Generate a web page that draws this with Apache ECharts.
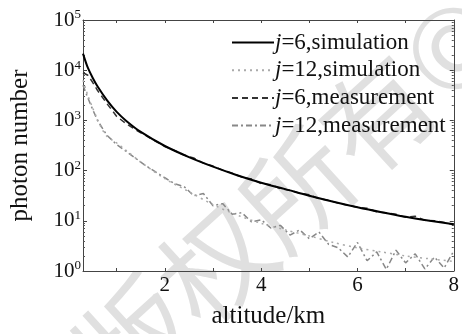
<!DOCTYPE html>
<html>
<head>
<meta charset="utf-8">
<script src="https://cdn.jsdelivr.net/npm/echarts@6/dist/echarts.min.js"></script>
<style>html,body{margin:0;padding:0;background:#fff}#c{width:462px;height:334px}</style>
</head>
<body>
<div id="c"></div>
<script>
// ---- data ----
const simJ6X = [0.3,0.4,0.5,0.6,0.8,1.0,1.2,1.5,2.0,2.5,3.0,3.5,4.0,4.5,5.0,5.5,6.0,6.5,7.0,7.5,8.0];
const simJ6Y = [21400,11200,7080,4790,2510,1480,977,589,309,186,120,81,57.5,42.7,31.6,24,18.6,14.8,12,10,8.5];
const simJ12X = [0.3,0.4,0.5,0.6,0.7,0.8,1.0,1.2,1.5,2.0,2.5,3.0,3.5,4.0,4.5,5.0,5.5,6.0,6.5,7.0,7.5,8.0];
const simJ12Y = [6310,3160,1780,1050,661,479,355,251,148,69,38,21,13,8.9,6.6,5.0,3.7,2.9,2.4,2.0,1.75,1.55];
const measX = [0.3,0.4,0.5,0.6,0.8,1.0,1.2,1.4,1.6,1.8,2.0,2.2,2.4,2.6,2.8,3.0,3.2,3.4,3.6,3.8,4.0,4.2,4.4,4.6,4.8,5.0,5.2,5.4,5.6,5.8,6.0,6.2,6.4,6.6,6.8,7.0,7.2,7.4,7.6,7.8,8.0];
const measJ6Y = [8910,7940,5750,3980,2140,1200,851,646,501,389,302,251,204,178,141,123,102,89,74,68,55,52.5,43.6,40.7,35.5,33.1,27.5,25.7,22.4,20.4,18.6,17.8,15.1,14.5,13.5,11.7,12.3,10.2,10,9.3,8.3];
const measJ12Y = [5010,2820,1660,1000,501,331,240,174,126,95,72,55,48,31.6,35,20,22,13.5,14.5,9.5,10.5,7.2,8.1,5.2,6.6,4.4,6.0,3.4,2.9,1.9,3.7,1.6,2.4,1.08,2.6,1.45,2.2,1.1,1.9,1.15,2.5];
const xTicks = [1,2,3,4,5,6,7,8];
const xLabels = [2,4,6,8];
const names = ['j=6,simulation','j=12,simulation','j=6,measurement','j=12,measurement'];

const zip = (xs, ys) => xs.map((x, i) => [x, ys[i]]);
// minor tick positions in decades (log space) for 2..9 x 10^n
const minor = [];
for (let n = 0; n < 5; n++) for (let k = 2; k <= 9; k++) minor.push(n + Math.log10(k));
const major = [0,1,2,3,4,5];

const FONT = '"Liberation Serif", "Times New Roman", serif';
const chart = echarts.init(document.getElementById('c'));
const tickAxisCommon = {
  min: 0, max: 5, type: 'value', axisLine: {show: false}, axisLabel: {show: false},
  splitLine: {show: false}
};
chart.setOption({
  animation: false,
  backgroundColor: '#fff',
  graphic: [{
    type: 'text', z: -10,
    x: 290, y: 195, rotation: 0.74,
    style: {
      text: '版权所有©', font: '110px "Noto Sans CJK SC"', fill: '#e0e0e0',
      align: 'center', verticalAlign: 'middle'
    }
  }],
  grid: {left: 77, right: 7, top: 20, bottom: 51, containLabel: false},
  legend: {
    orient: 'vertical', left: 226, top: 26, itemWidth: 42, itemHeight: 14, itemGap: 4.7,
    data: names,
    itemStyle: {opacity: 0},
    formatter: n => '{i|j}' + n.slice(1),
    textStyle: {
      fontFamily: FONT, fontSize: 23, color: '#111', padding: [0,0,0,-4],
      rich: {i: {fontFamily: FONT, fontSize: 23, fontStyle: 'italic', color: '#111'}}
    }
  },
  xAxis: [{
    type: 'value', min: 0.3, max: 8, position: 'bottom',
    name: 'altitude/km', nameLocation: 'middle', nameGap: 33,
    nameTextStyle: {fontFamily: FONT, fontSize: 25, color: '#111'},
    axisLine: {show: true, onZero: false, lineStyle: {color: '#444', width: 1}},
    axisTick: {show: true, inside: true, length: 3, customValues: xTicks, lineStyle: {color: '#444'}},
    axisLabel: {customValues: xLabels, fontFamily: FONT, fontSize: 21, color: '#111', margin: 4},
    splitLine: {show: false}
  }, {
    type: 'value', min: 0.3, max: 8, position: 'top',
    axisLine: {show: true, onZero: false, lineStyle: {color: '#444', width: 1}},
    axisTick: {show: true, inside: true, length: 3, customValues: xTicks, lineStyle: {color: '#444'}},
    axisLabel: {show: false}, splitLine: {show: false}
  }],
  yAxis: [{
    type: 'log', min: 1, max: 100000, logBase: 10, position: 'left',
    name: 'photon number', nameLocation: 'middle', nameGap: 50,
    nameTextStyle: {fontFamily: FONT, fontSize: 25, color: '#111'},
    axisLine: {show: true, onZero: false, lineStyle: {color: '#444', width: 1}},
    axisTick: {show: false},
    axisLabel: {
      margin: 2, fontFamily: FONT, color: '#111',
      formatter: v => '{b|10}{s|' + Math.round(Math.log10(v)) + '}',
      rich: {
        b: {fontFamily: FONT, fontSize: 21, color: '#111'},
        s: {fontFamily: FONT, fontSize: 13, color: '#111', padding: [0,0,10,0]}
      }
    },
    splitLine: {show: false}
  }, Object.assign({position: 'left', offset: 0,
    axisTick: {show: true, inside: true, length: 4, customValues: major, lineStyle: {color: '#444'}}}, tickAxisCommon),
  Object.assign({position: 'left', offset: 0,
    axisTick: {show: true, inside: true, length: 2, customValues: minor, lineStyle: {color: '#555'}}}, tickAxisCommon),
  {
    type: 'log', min: 1, max: 100000, position: 'right',
    axisLine: {show: true, onZero: false, lineStyle: {color: '#444', width: 1}},
    axisTick: {show: false}, axisLabel: {show: false}, splitLine: {show: false}
  },
  Object.assign({position: 'right', offset: 0,
    axisTick: {show: true, inside: true, length: 4, customValues: major, lineStyle: {color: '#444'}}}, tickAxisCommon),
  Object.assign({position: 'right', offset: 0,
    axisTick: {show: true, inside: true, length: 2, customValues: minor, lineStyle: {color: '#555'}}}, tickAxisCommon)
  ],
  series: [{
    name: names[0], type: 'line', data: zip(simJ6X, simJ6Y), smooth: 0.3, symbol: 'none', z: 5,
    lineStyle: {color: '#000', width: 2, type: 'solid'}, itemStyle: {color: '#000'}
  }, {
    name: names[1], type: 'line', data: zip(simJ12X, simJ12Y), smooth: 0.3, symbol: 'none', z: 3,
    lineStyle: {color: '#aaa', width: 1.5, type: [2, 4]}, itemStyle: {color: '#aaa'}
  }, {
    name: names[2], type: 'line', data: zip(measX, measJ6Y), symbol: 'none', z: 4,
    lineStyle: {color: '#333', width: 1.5, type: [6, 4]}, itemStyle: {color: '#333'}
  }, {
    name: names[3], type: 'line', data: zip(measX, measJ12Y), symbol: 'none', z: 2,
    lineStyle: {color: '#888', width: 1.5, type: [6, 3, 2, 3]}, itemStyle: {color: '#888'}
  }]
});
</script>
</body>
</html>
